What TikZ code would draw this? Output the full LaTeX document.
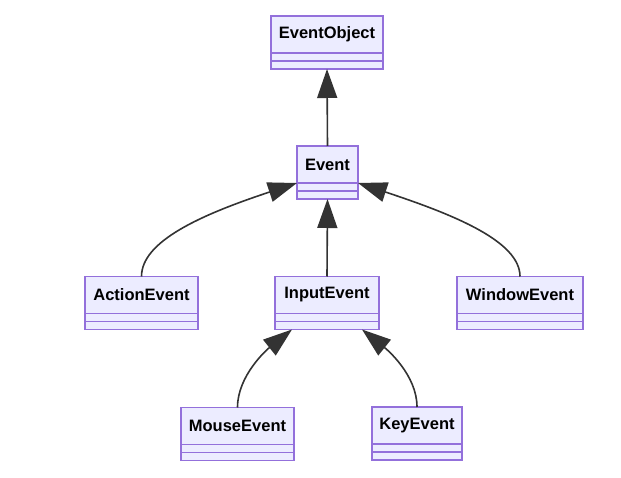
\documentclass[tikz,border=0pt]{standalone}
\usepackage{fontspec}
\setsansfont{Liberation Sans}
\usetikzlibrary{arrows.meta, positioning, calc}
\definecolor{clsfill}{HTML}{ECECFF}
\definecolor{clsdraw}{HTML}{9370DB}
\definecolor{linkgray}{HTML}{333333}
\tikzset{
    cls_title/.style={
        rectangle,
        draw=clsdraw,
        fill=clsfill,
        line width=1.7pt,
        minimum height=37pt,
        inner sep=0pt,
        outer sep=0pt,
        font=\sffamily\bfseries\fontsize{16.5}{19}\selectfont,
        align=center
    },
    cls_part/.style={
        rectangle,
        draw=clsdraw,
        fill=clsfill,
        line width=1.7pt,
        minimum height=8pt,
        inner sep=0pt,
        outer sep=0pt
    },
    inherit_arrow/.style={
        -{Triangle[length=29pt, width=20pt, fill=linkgray]},
        draw=linkgray,
        line width=1.6pt
    }
}
% name, position, width, label
\newcommand{\umlclass}[4]{
    \node[cls_title, minimum width=#3] (#1) at (#2) {#4};
    \node[cls_part, minimum width=#3, below=0pt of #1] (#1_a) {};
    \node[cls_part, minimum width=#3, below=0pt of #1_a] (#1_b) {};
}

\begin{document}
\begin{tikzpicture}[x=1pt, y=-1pt]
\useasboundingbox (0,0) rectangle (621,478);

% --- Classes ---
\umlclass{EventObject}{327,34.5}{112pt}{EventObject}
\umlclass{Event}{327.5,164.5}{61pt}{Event}
\umlclass{ActionEvent}{141.5,295}{113pt}{ActionEvent}
\umlclass{InputEvent}{327,295}{104pt}{InputEvent}
\umlclass{WindowEvent}{520,295}{126pt}{WindowEvent}
\umlclass{MouseEvent}{237.5,426}{113pt}{MouseEvent}
\umlclass{KeyEvent}{417,425.5}{90pt}{KeyEvent}

% --- Inheritance ---
\draw[inherit_arrow] (Event.north) -- (EventObject_b.south);
\draw[inherit_arrow] (InputEvent.north) -- (Event_b.south);
\draw[inherit_arrow] (ActionEvent.north) .. controls +(0,-35) and +(-97,32) .. (Event.south west);
\draw[inherit_arrow] (WindowEvent.north) .. controls +(0,-35) and +(97,32) .. (Event.south east);
\draw[inherit_arrow] (MouseEvent.north) .. controls +(0,-32) and +(-25,20) .. ($(InputEvent_b.south)+(-35,0)$);
\draw[inherit_arrow] (KeyEvent.north) .. controls +(0,-32) and +(25,20) .. ($(InputEvent_b.south)+(35,0)$);

\end{tikzpicture}
\end{document}
